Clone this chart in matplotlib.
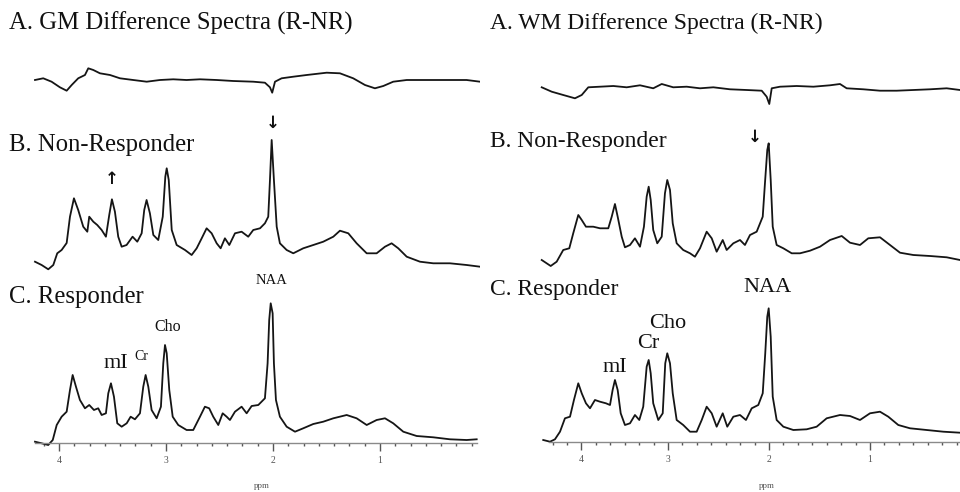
import matplotlib
matplotlib.use("Agg")
import matplotlib.pyplot as plt
from matplotlib.ticker import FixedLocator, FixedFormatter, NullFormatter

# ---------------- data (ppm, intensity in arbitrary units) ----------------
# Grey matter (left)
gm_diff_ppm = [4.224, 4.147, 4.069, 3.991, 3.928, 3.881, 3.820, 3.757, 3.726, 3.679, 3.617, 3.523,
               3.430, 3.306, 3.180, 3.056, 2.932, 2.807, 2.682, 2.526, 2.371, 2.184, 2.075, 2.028,
               2.007, 1.981, 1.919, 1.810, 1.685, 1.498, 1.374, 1.250, 1.140, 1.047, 0.969, 0.876,
               0.750, 0.564, 0.377, 0.190, 0.065]
gm_diff = [0, 1.7, -1.7, -7.3, -10.7, -5, 1.7, 5, 11.7, 10, 6.7, 5,
           1.7, 0, -1.7, 0, 0.7, 0, 0.7, 0, -1, -1.7, -2.7, -7.3,
           -12.7, -1.7, 1.7, 3.3, 5, 7.3, 6.7, 1.7, -5, -8.3, -6, -1.7,
           0, 0, 0, 0, -1.7]

gm_nr_ppm = [4.224, 4.162, 4.100, 4.053, 4.016, 3.975, 3.928, 3.897, 3.860, 3.820, 3.773, 3.735,
             3.717, 3.679, 3.642, 3.601, 3.561, 3.530, 3.505, 3.477, 3.446, 3.414, 3.368, 3.312,
             3.268, 3.227, 3.203, 3.181, 3.150, 3.118, 3.072, 3.030, 3.006, 2.993, 2.974, 2.946,
             2.900, 2.822, 2.760, 2.713, 2.666, 2.620, 2.573, 2.526, 2.489, 2.449, 2.408, 2.355,
             2.293, 2.231, 2.184, 2.121, 2.075, 2.044, 2.028, 2.012, 1.991, 1.965, 1.935, 1.872,
             1.810, 1.717, 1.623, 1.530, 1.436, 1.374, 1.296, 1.218, 1.124, 1.031, 0.953, 0.891,
             0.829, 0.750, 0.626, 0.502, 0.346, 0.190, 0.065]
gm_nr = [6.3, 3, -1.3, 3, 14.7, 18, 25, 51.3, 69.7, 58, 41.3, 36.3,
         51.3, 46.3, 43, 38, 31.3, 53, 68.7, 56.3, 31.3, 21.3, 23, 31.3,
         26.3, 34.7, 58, 68, 54.7, 33, 28, 51.3, 91.3, 99.7, 88, 38,
         23, 18, 13, 19.7, 29.7, 39.7, 34.7, 24.7, 19.7, 29.7, 23, 34.7,
         36.3, 31.3, 38, 39.7, 44.7, 51.3, 88, 128, 88, 41.3, 24.7, 18,
         14.7, 19.7, 23, 26.3, 31.3, 37.3, 34.7, 24.7, 14.7, 14.7, 21.3, 24.7,
         19.7, 11.3, 6.3, 4.7, 4.7, 3, 1.3]

gm_r_ppm = [4.224, 4.162, 4.100, 4.058, 4.021, 3.975, 3.928, 3.897, 3.872, 3.841, 3.804, 3.757,
            3.717, 3.673, 3.633, 3.601, 3.561, 3.539, 3.514, 3.486, 3.455, 3.414, 3.367, 3.330,
            3.290, 3.243, 3.212, 3.190, 3.165, 3.134, 3.087, 3.047, 3.025, 3.009, 2.993, 2.969,
            2.937, 2.885, 2.807, 2.745, 2.682, 2.636, 2.596, 2.558, 2.511, 2.470, 2.433, 2.402,
            2.355, 2.293, 2.246, 2.199, 2.137, 2.075, 2.050, 2.035, 2.021, 2.003, 1.991, 1.972,
            1.935, 1.872, 1.794, 1.717, 1.623, 1.530, 1.436, 1.311, 1.218, 1.124, 1.031, 0.953,
            0.876, 0.782, 0.657, 0.502, 0.346, 0.190, 0.096]
gm_r = [1.3, -0.3, -2, 3, 18, 26.3, 31.3, 53, 68, 56.3, 43, 34.7,
        38, 33, 34.7, 28, 29.7, 49.7, 59.7, 46.3, 19.7, 16.3, 19.7, 26.3,
        23.7, 29.7, 56.3, 68, 56.3, 33, 24.7, 36.3, 79.7, 98, 89.7, 53,
        26.3, 18, 13, 13, 26.3, 36.3, 34.7, 26.3, 18, 29.7, 26.3, 23,
        31.3, 36.3, 29.7, 37, 38, 44.7, 79.7, 123, 139.7, 129.7, 79.7, 43,
        26.3, 16.3, 11.3, 14.7, 19, 21.3, 24.7, 28, 24.7, 18, 23, 24.7,
        19.7, 11.3, 7, 5.7, 3.7, 3, 3.7]

# White matter (right)
wm_diff_ppm = [4.250, 4.151, 4.037, 3.921, 3.854, 3.789, 3.673, 3.541, 3.409, 3.277, 3.146, 3.062,
               2.948, 2.815, 2.683, 2.551, 2.386, 2.221, 2.072, 2.023, 1.997, 1.973, 1.891, 1.726,
               1.561, 1.396, 1.297, 1.231, 1.066, 0.901, 0.736, 0.571, 0.406, 0.241, 0.109]
wm_diff = [-2.3, -6.7, -10, -13.3, -10, -2.3, -1.7, -1, -2.3, -0.3, -3.3, 1,
           -2.3, -1.7, -3.3, -2.3, -4.3, -5, -5.7, -11.7, -19, -3.3, -1.7, -1,
           -1.7, -0.3, 1, -3.3, -4.3, -5.7, -5.7, -5, -4.3, -3.3, -5]

wm_nr_ppm = [4.250, 4.201, 4.161, 4.102, 4.037, 3.977, 3.938, 3.888, 3.854, 3.812, 3.740, 3.673,
             3.591, 3.557, 3.525, 3.498, 3.458, 3.426, 3.376, 3.327, 3.277, 3.238, 3.211, 3.191,
             3.171, 3.146, 3.106, 3.062, 3.030, 3.007, 2.980, 2.953, 2.914, 2.849, 2.782, 2.733,
             2.683, 2.617, 2.567, 2.518, 2.458, 2.419, 2.353, 2.287, 2.238, 2.188, 2.122, 2.062,
             2.040, 2.017, 2.003, 1.983, 1.963, 1.924, 1.858, 1.775, 1.693, 1.594, 1.495, 1.396,
             1.280, 1.198, 1.099, 1.017, 0.901, 0.802, 0.703, 0.571, 0.406, 0.241, 0.109]
wm_nr = [2, -1.3, -4, 0.3, 12, 13.7, 28.7, 47, 42, 35.3, 35.3, 33.7,
         33.7, 45.3, 58, 45.3, 25.3, 14.7, 17, 23.7, 15.3, 35.3, 65.3, 75.3,
         62, 32, 18.7, 25.3, 68.7, 82, 72, 38.7, 18.7, 12, 8.7, 5.3,
         13.7, 30.3, 23.7, 10.3, 22, 12, 18.7, 22, 17, 27, 30.3, 45.3,
         78.7, 112, 118.7, 82, 35.3, 17, 13.7, 8.7, 8.7, 11.3, 15.3, 22,
         26, 19.3, 17, 23.7, 24.7, 17, 9.3, 7, 6, 4.7, 2]

wm_r_ppm = [4.235, 4.168, 4.119, 4.069, 4.020, 3.970, 3.931, 3.888, 3.854, 3.812, 3.772, 3.723,
            3.673, 3.614, 3.574, 3.548, 3.525, 3.498, 3.468, 3.426, 3.376, 3.327, 3.284, 3.245,
            3.211, 3.191, 3.171, 3.146, 3.096, 3.052, 3.027, 3.007, 2.980, 2.953, 2.914, 2.849,
            2.782, 2.716, 2.666, 2.617, 2.567, 2.518, 2.458, 2.413, 2.353, 2.287, 2.228, 2.171,
            2.106, 2.062, 2.037, 2.017, 2.003, 1.983, 1.963, 1.924, 1.858, 1.759, 1.627, 1.528,
            1.429, 1.297, 1.198, 1.099, 1.000, 0.901, 0.819, 0.720, 0.604, 0.439, 0.274, 0.109]
wm_r = [2, 0.3, 2.7, 10.3, 23.7, 25.3, 42, 58.7, 48.7, 38.7, 33.7, 42,
        40.3, 38.7, 37, 52, 62, 52, 28.7, 17, 18.7, 27, 22, 35.3,
        75.3, 82, 68.7, 38.7, 22, 28.7, 78.7, 88.7, 78.7, 48.7, 22, 17,
        10.3, 10.3, 22, 35.3, 28.7, 15.3, 28.7, 15.3, 25.3, 27, 22, 33.7,
        37, 48.7, 88.7, 125.3, 133.7, 105.3, 45.3, 22, 15.3, 12, 12.7, 15.3,
        23.7, 27, 26, 22, 28.7, 30.3, 25.3, 17, 13.7, 12, 10.3, 9.3]

gm_tick_vals = [4, 3, 2, 1]
wm_tick_vals = [27 / 7, 3, 2, 1]
tick_labels = ["4", "3", "2", "1"]

titles_left = ["A. GM Difference Spectra (R-NR)", "B. Non-Responder", "C. Responder"]
titles_right = ["A. WM Difference Spectra (R-NR)", "B. Non-Responder", "C. Responder"]

# ---------------- figure ----------------
W, H = 960, 492
fig = plt.figure(figsize=(W / 100, H / 100), dpi=100)
fig.patch.set_facecolor("white")
SERIF = ["Liberation Serif", "DejaVu Serif"]
ARROWF = ["DejaVu Sans"]
LC = "#151515"
LW = 1.3
TC = "#111111"


def setup(ax, xlim, axis_y, bounds, ticks):
    ax.set_xlim(*xlim)
    ax.set_ylim(0, H)
    ax.set_facecolor("none")
    for s in ["left", "right", "top"]:
        ax.spines[s].set_visible(False)
    sp = ax.spines["bottom"]
    sp.set_position(("data", axis_y))
    sp.set_bounds(*bounds)
    sp.set_color("#8a8a8a")
    sp.set_linewidth(1.0)
    ax.set_yticks([])
    ax.xaxis.set_major_locator(FixedLocator(ticks))
    ax.xaxis.set_major_formatter(FixedFormatter(tick_labels))
    lo, hi = min(bounds), max(bounds)
    minors = [k / 7 for k in range(0, 40) if lo <= k / 7 <= hi]
    ax.xaxis.set_minor_locator(FixedLocator(minors))
    ax.xaxis.set_minor_formatter(NullFormatter())
    ax.tick_params(axis="x", which="major", direction="out", length=5.5, width=1.0,
                   color="#555555", labelsize=7, labelcolor="#555555", pad=4)
    ax.tick_params(axis="x", which="minor", direction="out", length=2.5, width=1.0,
                   color="#555555")
    for lab in ax.get_xticklabels():
        lab.set_family(SERIF)


axL = fig.add_axes([0, 0, 0.5, 1])
axR = fig.add_axes([0.5, 0, 0.5, 1])
setup(axL, (4.551, 0.065), 49, (4.22, 0.09), gm_tick_vals)
setup(axR, (4.861, 0.109), 50, (4.18, 0.11), wm_tick_vals)

# traces with vertical offsets
axL.plot(gm_diff_ppm, [v + 412 for v in gm_diff], color=LC, lw=LW)
axL.plot(gm_nr_ppm, [v + 224 for v in gm_nr], color=LC, lw=LW)
axL.plot(gm_r_ppm, [v + 49 for v in gm_r], color=LC, lw=LW)

axR.plot(wm_diff_ppm, [v + 407 for v in wm_diff], color=LC, lw=LW)
axR.plot(wm_nr_ppm, [v + 230 for v in wm_nr], color=LC, lw=LW)
axR.plot(wm_r_ppm, [v + 50 for v in wm_r], color=LC, lw=LW)

# panel titles
for yp, t in zip([23, 145, 297], titles_left):
    fig.text(9 / W, 1 - yp / H, t, family=SERIF, fontsize=17.8, color=TC,
             ha="left", va="center")
for yp, t in zip([23, 142, 290], titles_right):
    fig.text(490 / W, 1 - yp / H, t, family=SERIF, fontsize=17, color=TC,
             ha="left", va="center")

# peak labels (left)
axL.text(2.01, 212, "NAA", family=SERIF, fontsize=10.5, ha="center", va="center", color=TC)
axL.text(2.98, 165, "Cho", family=SERIF, fontsize=11.5, ha="center", va="center", color=TC)
axL.text(3.47, 129, "mI", family=SERIF, fontsize=16, ha="center", va="center", color=TC)
axL.text(3.23, 135, "Cr", family=SERIF, fontsize=10, ha="center", va="center", color=TC)
# peak labels (right)
axR.text(2.01, 205, "NAA", family=SERIF, fontsize=16, ha="center", va="center", color=TC)
axR.text(3.0, 168, "Cho", family=SERIF, fontsize=16, ha="center", va="center", color=TC)
axR.text(3.2, 148, "Cr", family=SERIF, fontsize=16, ha="center", va="center", color=TC)
axR.text(3.53, 125, "mI", family=SERIF, fontsize=16, ha="center", va="center", color=TC)

# arrows
axL.text(2.0, 369, "\u2193", family=ARROWF, fontsize=12, fontweight="bold",
         ha="center", va="center", color=TC)
axL.text(3.505, 313, "\u2191", family=ARROWF, fontsize=12, fontweight="bold",
         ha="center", va="center", color=TC)
axR.text(2.14, 355, "\u2193", family=ARROWF, fontsize=12, fontweight="bold",
         ha="center", va="center", color=TC)

# ppm axis labels
axL.text(2.10, 6, "ppm", family=SERIF, fontsize=6.5, ha="center", va="center", color="#555555")
axR.text(2.02, 6, "ppm", family=SERIF, fontsize=6.5, ha="center", va="center", color="#555555")

fig.savefig("out.png", dpi=100, facecolor="white")
